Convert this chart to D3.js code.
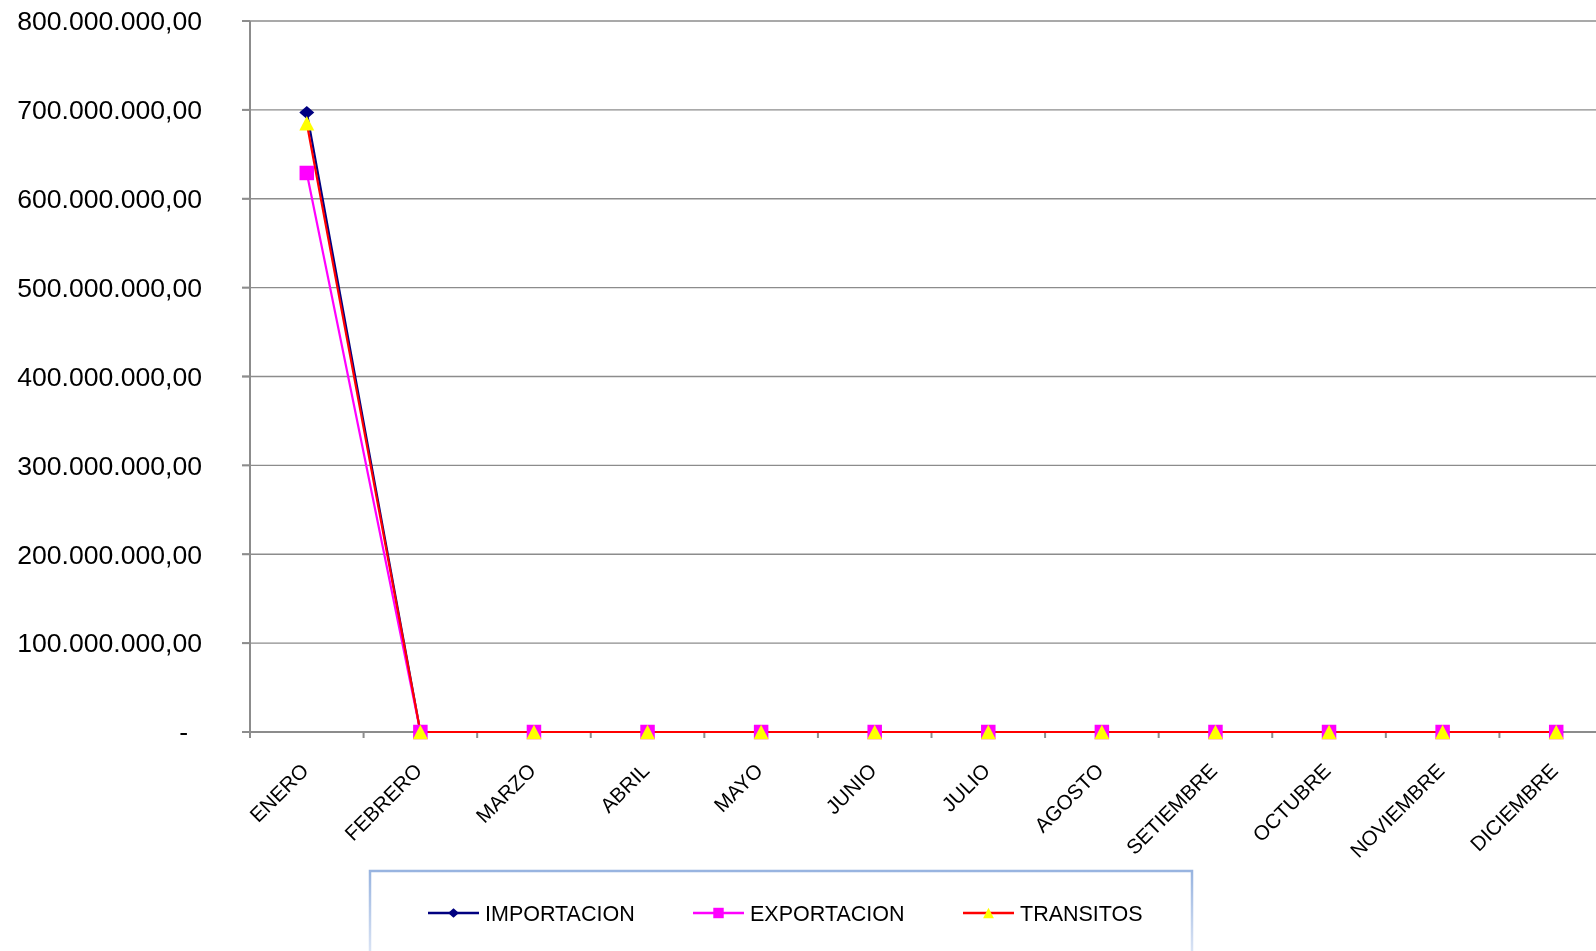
<!DOCTYPE html>
<head>
<meta charset="utf-8">
<title>importacion exportacion transitos</title>
<style>
html, body { margin:0; padding:0; overflow:hidden; background-color:#ffffff; }
svg { position:fixed; top:0; left:0; }
text { font-family: 'Liberation Sans', Arial, sans-serif; fill:#000; }
</style>
</head>
<body>
<svg id="stage" width="1596" height="951"></svg>
<script src="https://d3js.org/d3.v7.min.js"></script>
<script>

// data
var meses = ["ENERO","FEBRERO","MARZO","ABRIL","MAYO","JUNIO","JULIO","AGOSTO","SETIEMBRE","OCTUBRE","NOVIEMBRE","DICIEMBRE"];
var importacion = [697000000,0,0,0,0,0,0,0,0,0,0,0];
var exportacion = [629000000,0,0,0,0,0,0,0,0,0,0,0];
var transitos   = [685000000,0,0,0,0,0,0,0,0,0,0,0];
var yTicks = [0,100000000,200000000,300000000,400000000,500000000,600000000,700000000,800000000];

var series = [
  { name:"IMPORTACION", values: importacion, line:"#000080", fill:"#000080", shape:"diamond" },
  { name:"EXPORTACION", values: exportacion, line:"#ff00ff", fill:"#ff00ff", shape:"square" },
  { name:"TRANSITOS",   values: transitos,   line:"#ff0000", fill:"#ffff00", shape:"triangle" }
];

var svg = d3.select("#stage");
var x0 = 250, x1 = 1613, yTop = 21, yBot = 732;

var x = d3.scaleBand().domain(meses).range([x0, x1]).padding(0);
var y = d3.scaleLinear().domain([0, 800000000]).range([yBot, yTop]);

var loc = d3.formatLocale({ decimal:",", thousands:".", grouping:[3], currency:["",""] });
var fmt = loc.format(",.2f");

function cx(d, i) { return x(meses[i]) + x.bandwidth() / 2; }

// marker shapes (w, h in px)
function markerPath(shape, k) {
  k = k || 1;
  var p = d3.path();
  if (shape === "diamond") {
    var w = 15 * k / 2, h = 13 * k / 2;
    p.moveTo(0, -h); p.lineTo(w, 0); p.lineTo(0, h); p.lineTo(-w, 0); p.closePath();
  } else if (shape === "square") {
    var s = 14.5 * k / 2;
    p.rect(-s, -s, 2 * s, 2 * s);
  } else {
    var tw = 15 * k / 2, th = 14.5 * k / 2;
    p.moveTo(0, -th); p.lineTo(tw, th); p.lineTo(-tw, th); p.closePath();
  }
  return p.toString();
}

// grid lines
svg.append("g").selectAll("line")
  .data(yTicks.filter(function(d){ return d > 0; }))
  .enter().append("line")
    .attr("x1", 242).attr("x2", 1596)
    .attr("y1", function(d){ return y(d); }).attr("y2", function(d){ return y(d); })
    .attr("stroke", "#8c8c8c").attr("stroke-width", 1.3);

// y axis
var yAxis = svg.append("g");
yAxis.append("line")
  .attr("x1", x0).attr("x2", x0).attr("y1", yTop).attr("y2", yBot + 6)
  .attr("stroke", "#8c8c8c").attr("stroke-width", 2);
yAxis.selectAll("line.tk").data(yTicks).enter().append("line")
  .attr("class","tk")
  .attr("x1", 242).attr("x2", x0)
  .attr("y1", function(d){ return y(d); }).attr("y2", function(d){ return y(d); })
  .attr("stroke", "#8c8c8c").attr("stroke-width", 2);
yAxis.selectAll("text").data(yTicks).enter().append("text")
  .attr("x", function(d){ return d === 0 ? 188 : 202; })
  .attr("y", function(d){ return y(d); })
  .attr("dy", "0.35em")
  .attr("text-anchor", "end")
  .style("font-size", "26.6px")
  .text(function(d){ return d === 0 ? "-" : fmt(d); });

// x axis
var xAxis = svg.append("g");
xAxis.append("line")
  .attr("x1", 242).attr("x2", 1596).attr("y1", yBot).attr("y2", yBot)
  .attr("stroke", "#8c8c8c").attr("stroke-width", 2);
xAxis.selectAll("line.tk").data(meses).enter().append("line")
  .attr("class","tk")
  .attr("x1", function(d){ return x(d); }).attr("x2", function(d){ return x(d); })
  .attr("y1", yBot).attr("y2", yBot + 6)
  .attr("stroke", "#8c8c8c").attr("stroke-width", 2);
xAxis.selectAll("text").data(meses).enter().append("text")
  .attr("text-anchor", "end")
  .attr("transform", function(d){ return "translate(" + (x(d) + x.bandwidth()/2 + 3) + "," + 772 + ") rotate(-45)"; })
  .style("font-size", "20.5px")
  .text(function(d){ return d; });

// lines
var line = d3.line()
  .x(function(d, i){ return cx(d, i); })
  .y(function(d){ return y(d); });

svg.append("g").selectAll("path")
  .data(series).enter().append("path")
    .attr("d", function(s){ return line(s.values); })
    .attr("fill", "none")
    .attr("stroke", function(s){ return s.line; })
    .attr("stroke-width", 2.2);

// markers
series.forEach(function(s) {
  svg.append("g").selectAll("path")
    .data(s.values).enter().append("path")
      .attr("d", markerPath(s.shape))
      .attr("transform", function(d, i){ return "translate(" + cx(d, i) + "," + y(d) + ")"; })
      .attr("fill", s.fill);
});

// legend
var defs = svg.append("defs");
var grad = defs.append("linearGradient").attr("id", "lg").attr("x1", 0).attr("x2", 0).attr("y1", 0).attr("y2", 1);
grad.append("stop").attr("offset", "0%").attr("stop-color", "#98b4e0");
grad.append("stop").attr("offset", "100%").attr("stop-color", "#f2f5fc");

var legend = svg.append("g");
legend.append("rect")
  .attr("x", 370).attr("y", 871).attr("width", 822).attr("height", 110)
  .attr("fill", "#ffffff").attr("stroke", "url(#lg)").attr("stroke-width", 2.5);

var legX = [428, 693, 963];
var li = legend.selectAll("g.it").data(series).enter().append("g")
  .attr("class", "it")
  .attr("transform", function(s, i){ return "translate(" + legX[i] + ",913)"; });
li.append("line")
  .attr("x1", 0).attr("x2", 51).attr("y1", 0).attr("y2", 0)
  .attr("stroke", function(s){ return s.line; }).attr("stroke-width", 2.5);
li.append("path")
  .attr("d", function(s){ return markerPath(s.shape, 0.72); })
  .attr("transform", "translate(25.5,0)")
  .attr("fill", function(s){ return s.fill; });
li.append("text")
  .attr("x", 57).attr("y", 0).attr("dy", "0.36em")
  .style("font-size", "21.5px")
  .text(function(s){ return s.name; });

</script>
</body>
